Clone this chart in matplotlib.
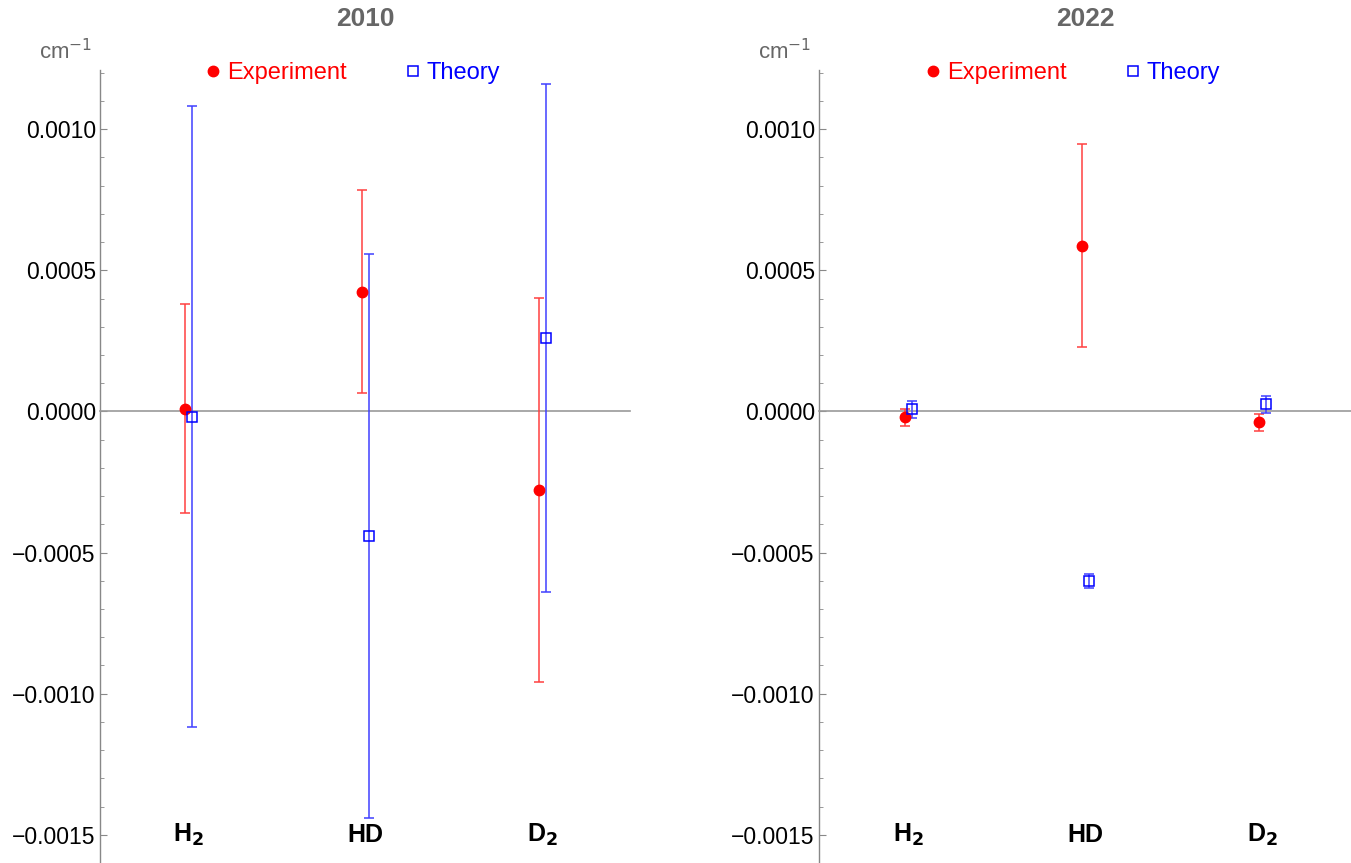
import matplotlib
matplotlib.use("Agg")
import matplotlib.pyplot as plt
from matplotlib.lines import Line2D
from matplotlib.ticker import MultipleLocator, FixedFormatter, FixedLocator

plt.rcParams['font.family'] = ['Liberation Sans', 'DejaVu Sans']

categories = ["H$_\\mathbf{2}$", "HD", "D$_\\mathbf{2}$"]
positions = [1, 2, 3]

years = ["2010", "2022"]
exp_vals = {"2010": [0.00001, 0.000424, -0.000279], "2022": [-0.000021, 0.000587, -0.000039]}
exp_errs = {"2010": [0.00037, 0.00036, 0.00068], "2022": [0.00003, 0.00036, 0.00003]}
th_vals = {"2010": [-0.000018, -0.000442, 0.000261], "2022": [0.000008, -0.0006, 0.000025]}
th_errs = {"2010": [0.0011, 0.001, 0.0009], "2022": [0.00003, 0.000025, 0.00003]}

yticks = [-0.0015, -0.0010, -0.0005, 0.0, 0.0005, 0.0010]
ytick_labels = ["\u22120.0015", "\u22120.0010", "\u22120.0005", "0.0000", "0.0005", "0.0010"]

W, H = 1351, 863
fig = plt.figure(figsize=(W / 100, H / 100), dpi=100)

# (axis left px, axis right px, pixel of category 1)
panels = [(100, 630, 188.5), (819, 1351, 908.5)]
step_px = 177.0
top_px = 70
gray = "#888888"
for (x0, x1, c1), yr in zip(panels, years):
    ax = fig.add_axes([x0 / W, 0, (x1 - x0) / W, (H - top_px) / H])
    ax.set_xlim(1 - (c1 - x0) / step_px, 1 + (x1 - c1) / step_px)
    ax.set_ylim(-0.0016, 0.00121)
    off = 0.02
    ax.errorbar([p - off for p in positions], exp_vals[yr], yerr=exp_errs[yr], fmt='o',
                color='red', ecolor=(1, 0.25, 0.25), elinewidth=1.1, capsize=3.3, capthick=1.1,
                markersize=7.5, zorder=3)
    ax.errorbar([p + off for p in positions], th_vals[yr], yerr=th_errs[yr], fmt='s',
                mfc='none', mec='blue', color='blue', ecolor=(0.25, 0.25, 1), elinewidth=1.1,
                capsize=3.3, capthick=1.1, markersize=7, mew=1.1, zorder=3)
    for sp in ['top', 'right']:
        ax.spines[sp].set_visible(False)
    ax.spines['bottom'].set_position(('data', 0))
    ax.spines['bottom'].set_color('#999999')
    ax.spines['bottom'].set_linewidth(1.2)
    ax.spines['left'].set_color(gray)
    ax.spines['left'].set_linewidth(1.0)
    ax.set_xticks([])
    ax.yaxis.set_major_locator(FixedLocator(yticks))
    ax.yaxis.set_major_formatter(FixedFormatter(ytick_labels))
    ax.yaxis.set_minor_locator(MultipleLocator(0.0001))
    ax.tick_params(axis='y', which='major', direction='in', length=5, color=gray,
                   labelsize=16.5, labelcolor='black', pad=3)
    ax.tick_params(axis='y', which='minor', direction='in', length=3, color=gray)
    ax.patch.set_alpha(0)
    for p, lab in zip(positions, categories):
        ax.text(p, -0.0015, lab, ha='center', va='center', fontsize=18,
                fontweight='bold', color='black')
    ax.set_title(yr, fontsize=19, fontweight='bold', color='#666666', pad=0,
                 y=(H - 19) / (H - top_px), va='center')
    fig.text((x0 - 8) / W, 1 - 52 / H, "cm$^{-1}$", ha='right', va='center',
             fontsize=16, color='#666666')
    handles = [Line2D([], [], marker='o', color='red', linestyle='none', markersize=7.5),
               Line2D([], [], marker='s', mfc='none', mec='blue', linestyle='none',
                      markersize=7, mew=1.1)]
    leg = ax.legend(handles, ["Experiment", "Theory"], ncol=2, frameon=False,
                    loc='center', bbox_to_anchor=((c1 + step_px - 15 - x0) / (x1 - x0), 0.996),
                    fontsize=17, handletextpad=0.1, columnspacing=2.3, handlelength=1.0)
    for t, c in zip(leg.get_texts(), ['red', 'blue']):
        t.set_color(c)

fig.savefig("out.png", dpi=100)
